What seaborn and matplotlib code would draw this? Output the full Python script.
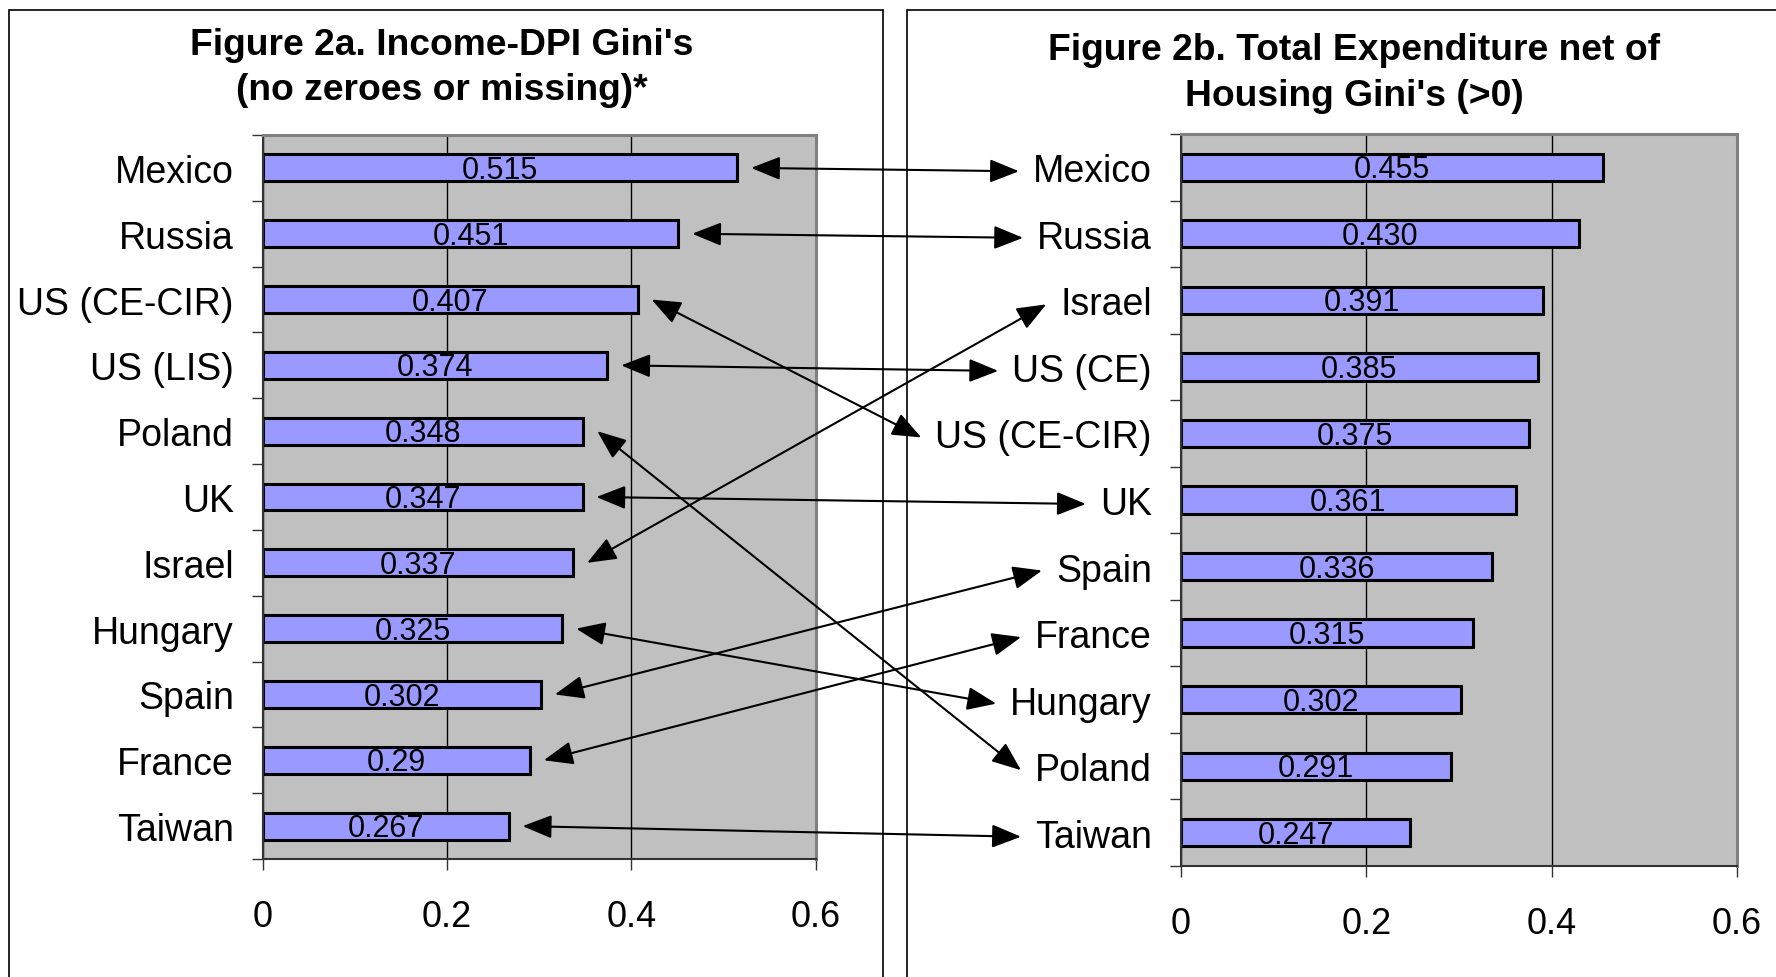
import matplotlib
matplotlib.use('Agg')
import numpy as np
import matplotlib.pyplot as plt
import seaborn as sns
from matplotlib.patches import ConnectionPatch, Rectangle

left_countries = ['Mexico', 'Russia', 'US (CE-CIR)', 'US (LIS)', 'Poland', 'UK',
                  'Israel', 'Hungary', 'Spain', 'France', 'Taiwan']
left_gini = [0.515, 0.451, 0.407, 0.374, 0.348, 0.347, 0.337, 0.325, 0.302, 0.29, 0.267]

right_countries = ['Mexico', 'Russia', 'Israel', 'US (CE)', 'US (CE-CIR)', 'UK',
                   'Spain', 'France', 'Hungary', 'Poland', 'Taiwan']
right_gini = [0.455, 0.430, 0.391, 0.385, 0.375, 0.361, 0.336, 0.315, 0.302, 0.291, 0.247]

# which left bar points to which right label
links = [('Mexico', 'Mexico'), ('Russia', 'Russia'), ('US (CE-CIR)', 'US (CE-CIR)'),
         ('US (LIS)', 'US (CE)'), ('Poland', 'Poland'), ('UK', 'UK'), ('Israel', 'Israel'),
         ('Hungary', 'Hungary'), ('Spain', 'Spain'), ('France', 'France'), ('Taiwan', 'Taiwan')]

xticks = [0, 0.2, 0.4, 0.6]
left_title = "Figure 2a. Income-DPI Gini's\n(no zeroes or missing)*"
right_title = "Figure 2b. Total Expenditure net of\nHousing Gini's (>0)"

sns.set_theme(style='white')
plt.rcParams['font.family'] = ['Liberation Sans', 'DejaVu Sans']
plt.rcParams['text.color'] = 'black'

W, H = 1776, 978
fig = plt.figure(figsize=(W / 100, H / 100), dpi=100)
ax1 = fig.add_axes([263 / W, 1 - 860 / H, 552.5 / W, 724 / H])
ax2 = fig.add_axes([1181 / W, 1 - 867 / H, 556 / W, 732 / H])


def draw_panel(ax, names, vals, fmt):
    sns.barplot(x=vals, y=names, orient='h', color='#9999FF', saturation=1,
                edgecolor='black', linewidth=2.2, width=0.41, ax=ax)
    labels = ax.bar_label(ax.containers[0], fmt=fmt, label_type='center', fontsize=22,
                          color='black')
    for t in labels:
        t.xyann = (0, -1.5)
    ax.set_facecolor('#C0C0C0')
    ax.set_xlim(0, 0.6)
    ax.set_ylim(len(names) - 0.5, -0.5)
    ax.set_xticks(xticks)
    ax.set_xticklabels([f'{t:g}' for t in xticks])
    ax.set_yticks(np.arange(-0.5, len(names), 1), minor=True)
    ax.set_xlabel('')
    ax.set_ylabel('')
    ax.xaxis.grid(True, color='black', lw=1)
    ax.yaxis.grid(False)
    ax.set_axisbelow(True)
    for s in ['top', 'right']:
        ax.spines[s].set_color('#808080')
        ax.spines[s].set_linewidth(2.2)
    for s in ['left', 'bottom']:
        ax.spines[s].set_color('#333333')
        ax.spines[s].set_linewidth(1.5)
    ax.tick_params(axis='x', which='major', bottom=True, direction='out', length=8, width=1,
                   color='#333333', pad=21, labelsize=26, labelcolor='black')
    ax.tick_params(axis='y', which='major', left=False, length=0, pad=21, labelsize=27,
                   labelcolor='black')
    ax.tick_params(axis='y', which='minor', left=True, direction='out', length=8, width=1,
                   color='#333333')


draw_panel(ax1, left_countries, left_gini, '{:g}')
draw_panel(ax2, right_countries, right_gini, '{:.3f}')

fig.text(442 / W, 1 - 68 / H, left_title, ha='center', va='center', fontsize=26.8,
         fontweight='bold', linespacing=1.38, color='black')
fig.text(1354 / W, 1 - 73.5 / H, right_title, ha='center', va='center', fontsize=26.8,
         fontweight='bold', linespacing=1.38, color='black')

# panel frames
fig.add_artist(Rectangle((9 / W, -0.1), (883 - 9) / W, 1.1 - 11 / H, transform=fig.transFigure,
                         fill=False, edgecolor='black', lw=1.2))
fig.add_artist(Rectangle((907 / W, -0.1), 0.6, 1.1 - 11 / H, transform=fig.transFigure,
                         fill=False, edgecolor='black', lw=1.2))

# arrows from left bars to right labels
fig.canvas.draw()
renderer = fig.canvas.get_renderer()
label_boxes = {t.get_text(): t.get_window_extent(renderer) for t in ax2.get_yticklabels()}
for lname, rname in links:
    i = left_countries.index(lname)
    bb = label_boxes[rname]
    con = ConnectionPatch(xyA=(left_gini[i] + 0.015, i), coordsA=ax1.transData,
                          xyB=(bb.x0 - 14, (bb.y0 + bb.y1) / 2), coordsB='figure pixels',
                          arrowstyle='<|-|>,head_length=0.9,head_width=0.36', mutation_scale=20,
                          lw=1.5, color='black', shrinkA=0, shrinkB=0)
    fig.add_artist(con)

fig.savefig('out.png', dpi=100)
